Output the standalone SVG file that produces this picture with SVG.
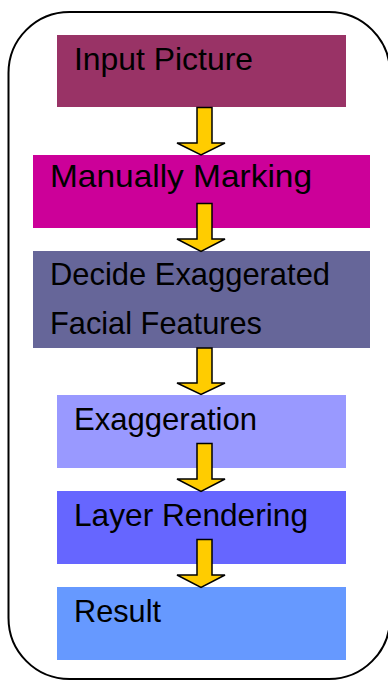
<svg xmlns="http://www.w3.org/2000/svg" width="388" height="680" viewBox="0 0 388 680">
<style>
.t{font-family:"Liberation Sans",Arial,sans-serif;font-size:32px;fill:#000}
.ar{fill:#FFCC00;stroke:#000;stroke-width:1.5;stroke-linejoin:miter}
</style>
<rect x="0" y="0" width="388" height="680" fill="#fff"/>
<rect id="frame" x="8.5" y="12" width="381.5" height="667" rx="61" ry="61" fill="none" stroke="#000" stroke-width="2"/>
<g id="n1"><rect x="57" y="35" width="289" height="72" fill="#993366"/><text class="t" x="74" y="70" textLength="179" lengthAdjust="spacingAndGlyphs">Input Picture</text></g>
<g id="n2"><rect x="33" y="155" width="337" height="73" fill="#CC0099"/><text class="t" x="50" y="187" textLength="262" lengthAdjust="spacingAndGlyphs">Manually Marking</text></g>
<g id="n3"><rect x="33" y="251" width="337" height="97" fill="#666699"/><text class="t" x="50" y="285" textLength="280" lengthAdjust="spacingAndGlyphs">Decide Exaggerated</text><text class="t" x="50" y="334" textLength="212" lengthAdjust="spacingAndGlyphs">Facial Features</text></g>
<g id="n4"><rect x="57" y="395" width="289" height="73" fill="#9999FF"/><text class="t" x="74" y="430" textLength="183" lengthAdjust="spacingAndGlyphs">Exaggeration</text></g>
<g id="n5"><rect x="57" y="491" width="289" height="73" fill="#6666FF"/><text class="t" x="74" y="526" textLength="234" lengthAdjust="spacingAndGlyphs">Layer Rendering</text></g>
<g id="n6"><rect x="57" y="587" width="289" height="73" fill="#6699FF"/><text class="t" x="74" y="622" textLength="87" lengthAdjust="spacingAndGlyphs">Result</text></g>
<g id="connectors">
<path class="ar" d="M197 107.5H212V143H225L201 155L177 143H197Z"/>
<path class="ar" d="M197 203.5H212V239H225L201 251.5L177 239H197Z"/>
<path class="ar" d="M197 348H212V383H225L201 394.5L177 383H197Z"/>
<path class="ar" d="M197 443.5H212V479H225L201 491.5L177 479H197Z"/>
<path class="ar" d="M197 539.5H212V575H225L201 587.5L177 575H197Z"/>
</g>
</svg>
